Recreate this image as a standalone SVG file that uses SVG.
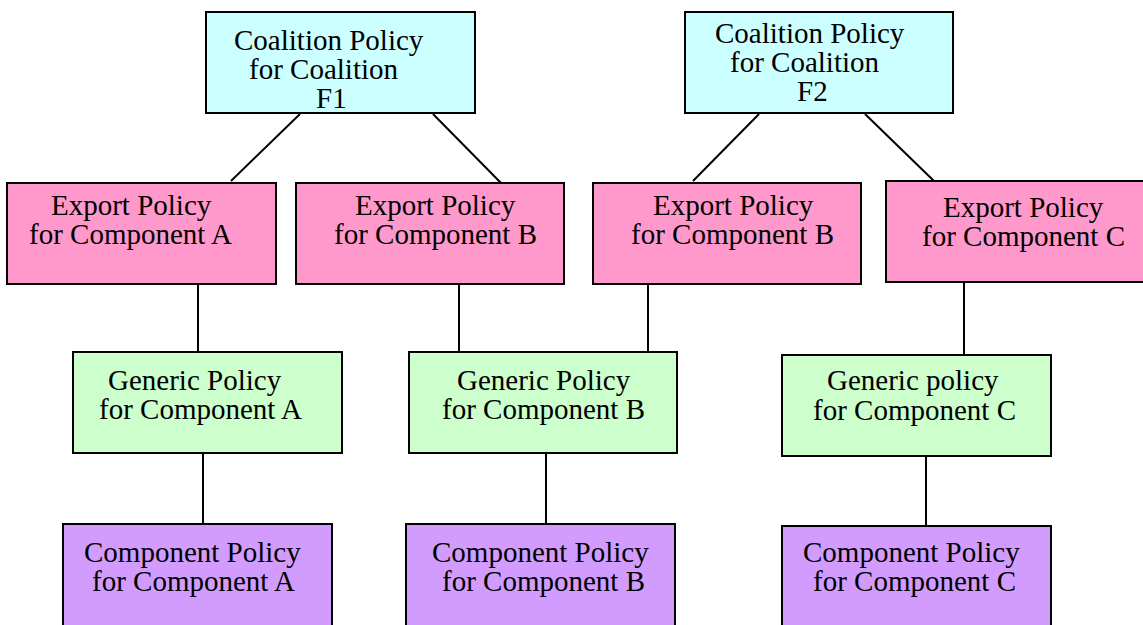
<svg xmlns="http://www.w3.org/2000/svg" width="1143" height="625" viewBox="0 0 1143 625">
<style>
.c,.e,.g,.p{stroke:#000;stroke-width:2}
.c{fill:#CCFFFF}.e{fill:#FF99CC}.g{fill:#CCFFCC}.p{fill:#D29CFF}
text{font-family:"Liberation Serif","Times New Roman",serif;font-size:29px;fill:#000}
#edges line{stroke:#000;stroke-width:2}
</style>
<rect x="0" y="0" width="1143" height="625" fill="#fff"/>
<g id="edges">
<line x1="300" y1="114" x2="231" y2="181"/>
<line x1="433" y1="114" x2="501" y2="183"/>
<line x1="759" y1="114" x2="693" y2="181"/>
<line x1="865" y1="114" x2="934" y2="181"/>
<line x1="198" y1="284" x2="198" y2="352"/>
<line x1="459" y1="284" x2="459" y2="352"/>
<line x1="648" y1="284" x2="648" y2="352"/>
<line x1="964" y1="282" x2="964" y2="355"/>
<line x1="203" y1="453" x2="203" y2="524"/>
<line x1="546" y1="453" x2="546" y2="524"/>
<line x1="926" y1="456" x2="926" y2="526"/>
</g>
<g id="coalitionF1"><rect class="c" x="206" y="12" width="269" height="101"/>
<text x="234" y="50">Coalition Policy</text><text x="249" y="79">for Coalition</text><text x="316" y="108">F1</text></g>
<g id="coalitionF2"><rect class="c" x="685" y="12" width="268" height="101"/>
<text x="715" y="43">Coalition Policy</text><text x="730" y="72">for Coalition</text><text x="797" y="101">F2</text></g>
<g id="exportA"><rect class="e" x="7" y="183" width="269" height="101"/>
<text x="51" y="215">Export Policy</text><text x="29" y="244">for Component A</text></g>
<g id="exportB1"><rect class="e" x="296" y="183" width="268" height="101"/>
<text x="355" y="215">Export Policy</text><text x="334" y="244">for Component B</text></g>
<g id="exportB2"><rect class="e" x="593" y="183" width="268" height="101"/>
<text x="653" y="215">Export Policy</text><text x="631" y="244">for Component B</text></g>
<g id="exportC"><rect class="e" x="886" y="181" width="268" height="101"/>
<text x="943" y="217">Export Policy</text><text x="922" y="246">for Component C</text></g>
<g id="genericA"><rect class="g" x="73" y="352" width="269" height="101"/>
<text x="108" y="390">Generic Policy</text><text x="99" y="419">for Component A</text></g>
<g id="genericB"><rect class="g" x="409" y="352" width="268" height="101"/>
<text x="457" y="390">Generic Policy</text><text x="442" y="419">for Component B</text></g>
<g id="genericC"><rect class="g" x="782" y="355" width="269" height="101"/>
<text x="827" y="390">Generic policy</text><text x="813" y="420">for Component C</text></g>
<g id="componentA"><rect class="p" x="63" y="524" width="269" height="110"/>
<text x="84" y="562">Component Policy</text><text x="92" y="591">for Component A</text></g>
<g id="componentB"><rect class="p" x="406" y="524" width="269" height="110"/>
<text x="432" y="562">Component Policy</text><text x="442" y="591">for Component B</text></g>
<g id="componentC"><rect class="p" x="782" y="526" width="269" height="110"/>
<text x="803" y="562">Component Policy</text><text x="813" y="591">for Component C</text></g>
</svg>
